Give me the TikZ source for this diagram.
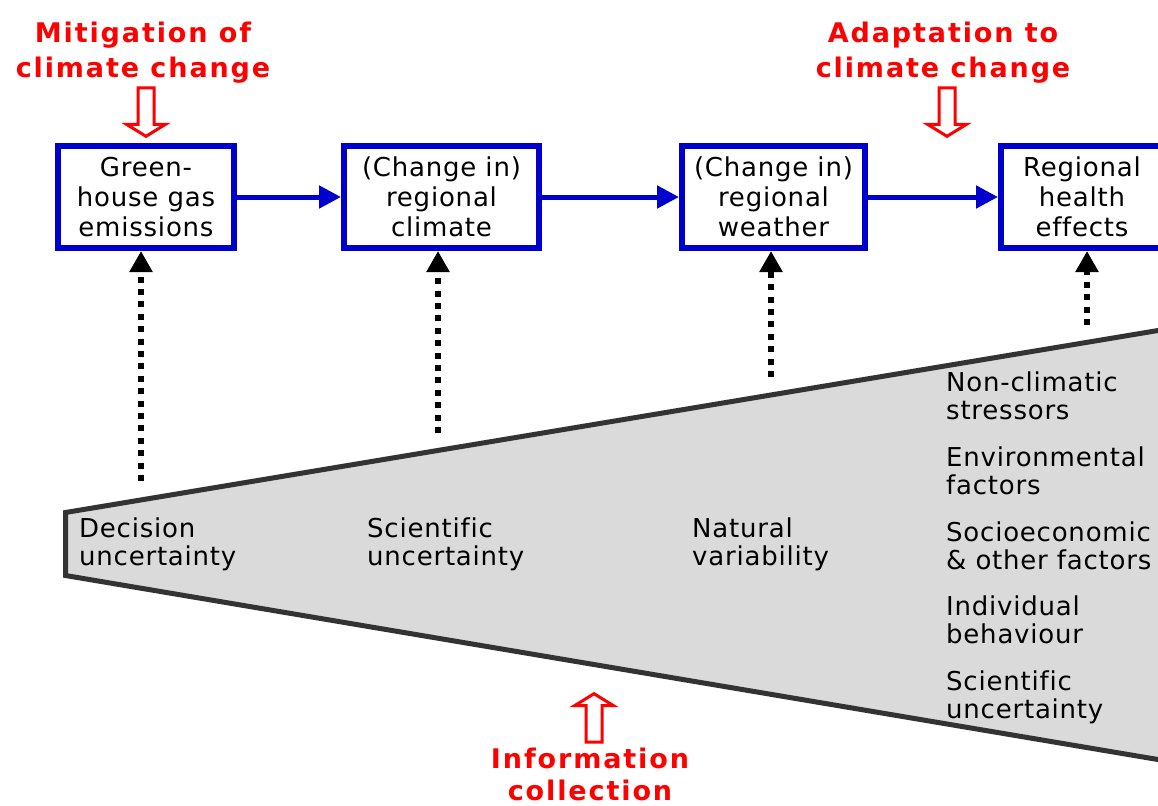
\documentclass[tikz,border=0pt]{standalone}
\usepackage{fontspec}
\setmainfont{DejaVu Sans}
\usetikzlibrary{arrows.meta}
\newfontfamily\boxfont[LetterSpace=3,Ligatures=NoCommon]{DejaVu Sans}
\newfontfamily\headfont[LetterSpace=7,Ligatures=NoCommon]{DejaVu Sans Bold}
\definecolor{boxblue}{RGB}{0,0,204}
\definecolor{conegray}{RGB}{218,218,218}
\definecolor{coneline}{RGB}{51,51,51}
\definecolor{headred}{RGB}{255,0,0}

\tikzset{
  stage/.style={draw=boxblue, line width=6pt, fill=white, align=center,
    inner sep=0pt, minimum height=102pt, text=black,
    font=\boxfont\fontsize{26}{30}\selectfont},
  flow/.style={draw=boxblue, line width=5pt, -{Triangle[length=22pt,width=22pt]}},
  influence/.style={draw=black, line width=6pt, dash pattern=on 6pt off 6.4pt,
    -{Triangle[length=21pt,width=22pt]}},
  % anchored at the baseline of the last line
  factor/.style={anchor=base west, align=left, inner sep=0pt,
    font=\boxfont\fontsize{26}{28.5}\selectfont},
  heading/.style={anchor=base, align=center, inner sep=0pt, text=headred,
    font=\headfont\fontsize{27}{35}\selectfont},
  openarrow/.pic={
    \draw[headred, line width=3pt, fill=white, line join=miter]
      (-8,-48.5) -- (8,-48.5) -- (8,-12) -- (19.5,-12) -- (0,0)
      -- (-19.5,-12) -- (-8,-12) -- cycle;}
}

\begin{document}
\begin{tikzpicture}[x=1pt,y=-1pt]
  \useasboundingbox (0,0) rectangle (1158,805);
  \clip (0,0) rectangle (1158,805);

  % widening cone of uncertainties
  \draw[fill=conegray, draw=coneline, line width=5pt, line join=miter]
    (65.5,512.5) -- (1200,323.5) -- (1200,766.6) -- (65.5,575.5) -- cycle;

  % causal chain
  \node[stage, minimum width=176pt] (b1) at (146,197) {Green-\\house gas\\emissions};
  \node[stage, minimum width=195pt] (b2) at (441.5,197) {(Change in)\\regional\\climate};
  \node[stage, minimum width=183pt] (b3) at (773.5,197) {(Change in)\\regional\\weather};
  \node[stage, minimum width=162pt] (b4) at (1082,197) {Regional\\health\\effects};

  \draw[flow] (b1.east) -- (b2.west);
  \draw[flow] (b2.east) -- (b3.west);
  \draw[flow] (b3.east) -- (b4.west);

  % sources of uncertainty feeding each stage
  \coordinate (u1) at (141,481);
  \coordinate (u2) at (438,433);
  \coordinate (u3) at (771,377);
  \coordinate (u4) at (1087,325);
  \draw[influence] (u1) -- (b1.south -| u1);
  \draw[influence] (u2) -- (b2.south -| u2);
  \draw[influence] (u3) -- (b3.south -| u3);
  \draw[influence] (u4) -- (b4.south -| u4);

  \node[factor] (f1) at (79,565.5) {Decision\\uncertainty};
  \node[factor] (f2) at (367,565.5) {Scientific\\uncertainty};
  \node[factor] (f3) at (692,565.5) {Natural\\variability};
  \node[factor] (g1) at (946,419.5) {Non-climatic\\stressors};
  \node[factor] (g2) at (946,494.5) {Environmental\\factors};
  \node[factor] (g3) at (946,569.5) {Socioeconomic\\\& other factors};
  \node[factor] (g4) at (946,643.5) {Individual\\behaviour};
  \node[factor] (g5) at (946,718.5) {Scientific\\uncertainty};

  % intervention points
  \node[heading] (mit) at (143,78) {Mitigation of\\climate change};
  \node[heading] (ada) at (943,78) {Adaptation to\\climate change};
  \node[heading, font=\headfont\fontsize{27}{32}\selectfont] (inf) at (590,800)
    {Information\\collection};
  \pic at (146,136.3) {openarrow};
  \pic at (947,136.3) {openarrow};
  \pic[rotate=180] at (594,693.7) {openarrow};
\end{tikzpicture}
\end{document}
